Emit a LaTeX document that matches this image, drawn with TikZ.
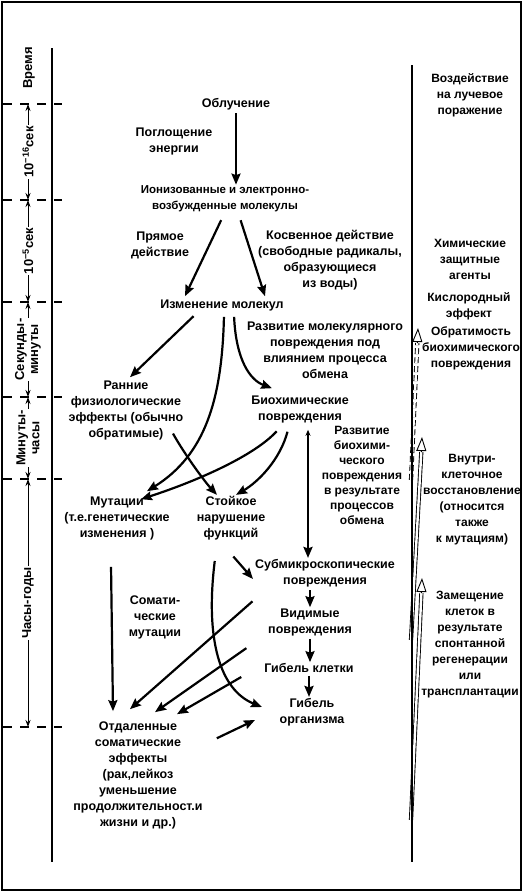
\documentclass[tikz,border=0pt]{standalone}
\usepackage{fontspec}
\setmainfont{Liberation Sans}
\usepackage{tikz}
\usetikzlibrary{arrows.meta,positioning}

\begin{document}
\begin{tikzpicture}[
  x=1pt,y=-1pt,
  txt/.style={align=center,inner sep=1pt,font=\bfseries\fontsize{12.5}{16}\selectfont},
  small/.style={txt,font=\bfseries\fontsize{11.5}{16}\selectfont},
  side/.style={txt,font=\bfseries\fontsize{12}{16}\selectfont},
  tight/.style={txt,font=\bfseries\fontsize{12}{15}\selectfont},
  tm/.style={txt,rotate=90,fill=white,font=\bfseries\fontsize{13}{14}\selectfont},
  arr/.style={-{Stealth[length=11pt,width=9pt,inset=1.5pt]},line width=2.2pt,shorten <=2pt},
  barr/.style={{Stealth[length=6pt,width=5pt]}-{Stealth[length=11pt,width=9pt,inset=1.5pt]},line width=2.2pt},
  tarr/.style={{Stealth[length=7pt,width=5pt]}-{Stealth[length=7pt,width=5pt]},line width=0.9pt},
  sep/.style={line width=1.2pt,dash pattern=on 9pt off 8pt},
  shaft/.style={double=white,double distance=2.4pt,line width=0.9pt},
  head/.style={-{Triangle[length=14pt,width=10pt,fill=white]},line width=0.9pt}
]
\useasboundingbox (0,0) rectangle (532,892);
\draw[line width=1.3pt] (2,2) rectangle (521,890);

% time scale
\node[tm] (vremya) at (29,68) {Время};
\coordinate (d1) at (28,104);
\coordinate (d2) at (28,200);
\coordinate (d3) at (28,302);
\coordinate (d4) at (28,397);
\coordinate (d5) at (28,479);
\coordinate (d6) at (28,727);
\draw[tarr] (d1) -- node[tm] (t16) {10\textsuperscript{−16}сек} (d2);
\draw[tarr] (d2) -- node[tm] (t5) {10\textsuperscript{−5}сек} (d3);
\draw[tarr] (d3) -- node[tm] (sekmin) {Секунды-\\минуты} (d4);
\draw[tarr] (d4) -- node[tm] (minch) {Минуты-\\часы} (d5);
\draw[tarr] (d5) -- node[tm] (chgod) {Часы-годы} (d6);
\draw[sep] (3,104) -- (62,104);
\draw[sep] (3,200) -- (62,200);
\draw[sep] (3,302) -- (62,302);
\draw[sep] (3,397) -- (62,397);
\draw[sep] (3,479) -- (62,479);
\draw[sep] (3,727) -- (62,727);

% main chain
\node[txt] (obl) at (236,104) {Облучение};
\node[txt] (pogl) at (174,141) {Поглощение\\энергии};
\node[small] (ion) at (225,199) {Ионизованные и электронно-\\возбужденные молекулы};
\node[txt] (pryam) at (160,245) {Прямое\\действие};
\node[txt] (kosv) at (330,260) {Косвенное действие\\(свободные радикалы,\\образующиеся\\из воды)};
\node[txt] (izm) at (222,305) {Изменение молекул};
\node[txt] (razvmol) at (325,350) {Развитие молекулярного\\повреждения под\\влиянием процесса\\обмена};
\node[txt] (ran) at (126,410) {Ранние\\физиологические\\эффекты (обычно\\обратимые)};
\node[txt] (bio) at (300,409) {Биохимические\\повреждения};
\node[tight] (razvbio) at (362,475) {Развитие\\биохими-\\ческого\\повреждения\\в результате\\процессов\\обмена};
\node[txt] (mut) at (117,518) {Мутации\\(т.е.генетические\\изменения )};
\node[txt] (stoik) at (231,518) {Стойкое\\нарушение\\функций};
\node[txt] (submik) at (325,573) {Субмикроскопические\\повреждения};
\node[txt] (somat) at (155,617) {Сомати-\\ческие\\мутации};
\node[txt] (vidim) at (310,622) {Видимые\\повреждения};
\node[txt] (gibkl) at (309,668) {Гибель клетки};
\node[txt] (gibor) at (312,712) {Гибель\\организма};
\node[txt] (otd) at (138,775) {Отдаленные\\соматические\\эффекты\\(рак,лейкоз\\уменьшение\\продолжительност.и\\жизни и др.)};

% right column
\node[side] (vozd) at (470,95) {Воздействие\\на лучевое\\поражение};
\node[side] (him) at (470,259) {Химические\\защитные\\агенты};
\node[side] (kisl) at (469,306) {Кислородный\\эффект};
\node[side] (obr) at (471,348) {Обратимость\\биохимического\\повреждения};
\node[side] (vnutr) at (472,500) {Внутри-\\клеточное\\восстановление\\(относится\\также\\к мутациям)};
\node[side] (zam) at (470,645) {Замещение\\клеток в\\результате\\спонтанной\\регенерации\\или\\трансплантации};

% hollow arrows
\coordinate (b1) at (411,480);
\coordinate (h1) at (417.3,343);
\coordinate (e1) at (418,328);
\coordinate (b2) at (411,640);
\coordinate (h2) at (421.3,452);
\coordinate (e2) at (422,437);
\coordinate (b3) at (411,820);
\coordinate (h3) at (421.4,593);
\coordinate (e3) at (422,578);
\draw[shaft,dash pattern=on 6pt off 3pt] (b1) -- (h1);
\draw[head] (h1) -- (e1);
\draw[shaft] (b2) -- (h2);
\draw[head] (h2) -- (e2);
\draw[shaft] (b3) -- (h3);
\draw[head] (h3) -- (e3);

\draw[line width=2.4pt] (52,48) -- (52,862);
\draw[line width=2.4pt] (412,65) -- (412,862);

% connectors
\draw[arr] (obl.south) -- (obl.south |- ion.north);
\draw[arr] ([xshift=-3pt,yshift=-5pt]ion.south) -- ([xshift=-37pt,yshift=2pt]izm.north);
\draw[arr] ([xshift=15pt,yshift=-5pt]ion.south) -- ([xshift=43pt,yshift=2pt]izm.north);
\draw[arr] ([xshift=-27pt,yshift=-3pt]izm.south) -- ([xshift=4pt,yshift=2pt]ran.north);
\draw[arr] ([xshift=2pt,yshift=-3pt]izm.south) .. controls (222,400) and (205,455) .. ([xshift=30pt,yshift=4pt]mut.north);
\draw[arr] ([xshift=12pt,yshift=-3pt]izm.south) .. controls (236,360) and (250,380) .. ([xshift=-28pt,yshift=6pt]bio.north);
\draw[arr] ([xshift=46pt,yshift=9pt]ran.south) .. controls (185,455) and (205,482) .. ([xshift=-14pt]stoik.north);
\draw[arr] ([xshift=-22pt,yshift=-6pt]bio.south) .. controls (255,455) and (200,480) .. ([xshift=24pt,yshift=-4pt]mut.north);
\draw[arr] ([xshift=-12pt,yshift=-6pt]bio.south) .. controls (280,460) and (258,482) .. ([xshift=5pt]stoik.north);
\draw[barr] ([xshift=8pt,yshift=-6pt]bio.south) -- ([xshift=-17pt]submik.north);
\draw[arr] ([xshift=1pt,yshift=-37pt]stoik.center) -- ([xshift=-72pt,yshift=-6pt]submik.center);
\draw[arr] (submik.south -| vidim.north) -- (vidim.north);
\draw[arr] (vidim.south) -- (vidim.south |- gibkl.north);
\draw[arr] (gibkl.south) -- (gibkl.south |- gibor.north);
\draw[arr] ([xshift=-16pt,yshift=-41pt]stoik.center) .. controls (205,640) and (220,690) .. ([xshift=-50pt,yshift=5pt]gibor.center);
\draw[arr] ([xshift=-71pt,yshift=-27pt]submik.center) -- ([xshift=-8pt,yshift=11pt]otd.north);
\draw[arr] ([xshift=-62pt,yshift=-25pt]vidim.center) -- ([xshift=17pt,yshift=8pt]otd.north);
\draw[arr] ([xshift=-66pt,yshift=-8pt]gibkl.center) -- ([xshift=39pt,yshift=6pt]otd.north);
\draw[arr] ([xshift=-6pt,yshift=-24pt]mut.south) -- ([xshift=-25pt,yshift=9pt]otd.north);
\draw[arr] ([xshift=77pt,yshift=-19pt]otd.north) -- ([xshift=-57pt,yshift=-8pt]gibor.center);
\end{tikzpicture}
\end{document}
